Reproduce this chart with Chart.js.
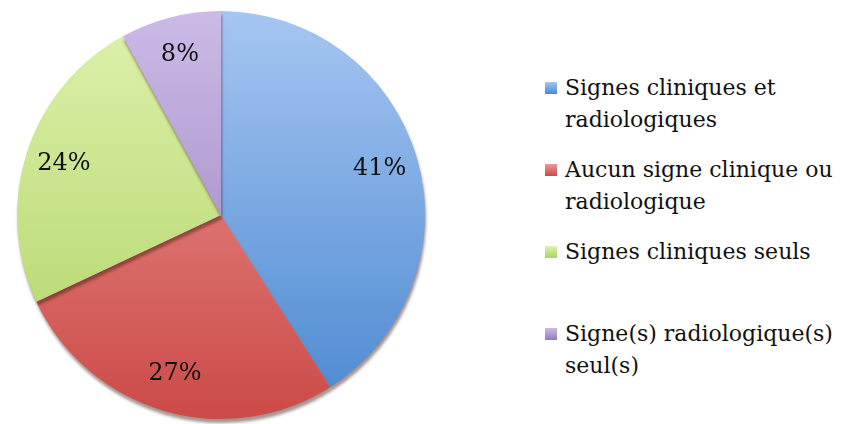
<!DOCTYPE html>
<html>
<head>
<meta charset="utf-8">
<script src="https://cdn.jsdelivr.net/npm/chart.js@4/dist/chart.umd.min.js"></script>
<style>
  html, body { margin: 0; padding: 0; background: #fff; }
  #wrap { position: relative; width: 841px; height: 424px; }
  #pie { position: absolute; left: 0; top: 0; }
  #legend { position: absolute; left: 545px; top: 72px; font-family: "DejaVu Serif", serif; font-size: 22px; color: #111; }
  .item { position: relative; padding-left: 20px; height: 82px; line-height: 32px; }
  .box { position: absolute; left: 0; top: 10px; width: 12px; height: 12px; }
</style>
</head>
<body>
<div id="wrap">
  <canvas id="pie" width="444" height="424"></canvas>
  <div id="legend"></div>
</div>
<script>
const labels = [
  "Signes cliniques et\nradiologiques",
  "Aucun signe clinique ou\nradiologique",
  "Signes cliniques seuls",
  "Signe(s) radiologique(s)\nseul(s)"
];
const values = [41, 27, 24, 8];
const topColors = ["#a6c6f2", "#eb9a98", "#ddf2ac", "#cbbbe6"];
const bottomColors = ["#4a88d0", "#cc4a47", "#b0d265", "#9679bd"];

function sliceGradient(ctx, i) {
  const area = ctx.chart.chartArea;
  if (!area) return topColors[i];
  const g = ctx.chart.ctx.createLinearGradient(0, area.top, 0, area.bottom);
  g.addColorStop(0, topColors[i]);
  g.addColorStop(1, bottomColors[i]);
  return g;
}

const pctLabels = {
  id: "pctLabels",
  afterDatasetsDraw(chart) {
    const c = chart.ctx;
    const total = values.reduce((a, b) => a + b, 0);
    chart.getDatasetMeta(0).data.forEach((arc, i) => {
      const mid = (arc.startAngle + arc.endAngle) / 2;
      const r = arc.outerRadius * 0.81;
      const x = arc.x + Math.cos(mid) * r;
      const y = arc.y + Math.sin(mid) * r;
      c.save();
      c.font = "24px 'DejaVu Serif', serif";
      c.fillStyle = "#111";
      c.textAlign = "center";
      c.textBaseline = "middle";
      c.fillText(Math.round(values[i] / total * 100) + "%", x, y);
      c.restore();
    });
  }
};

const shadow = {
  id: "shadow",
  beforeDatasetsDraw(chart) {
    const c = chart.ctx;
    c.save();
    c.shadowColor = "rgba(60,20,10,0.45)";
    c.shadowOffsetY = 4;
    c.shadowOffsetX = 1;
    c.shadowBlur = 3;
  },
  afterDatasetsDraw(chart) {
    chart.ctx.restore();
  }
};

new Chart(document.getElementById("pie").getContext("2d"), {
  type: "pie",
  data: {
    labels: labels,
    datasets: [{
      data: values,
      backgroundColor: (ctx) => sliceGradient(ctx, ctx.dataIndex),
      borderWidth: 0
    }]
  },
  options: {
    responsive: false,
    animation: false,
    layout: { padding: { left: 17, right: 19, top: 11, bottom: 5 } },
    plugins: {
      legend: { display: false },
      tooltip: { enabled: false }
    }
  },
  plugins: [shadow, pctLabels]
});

// legend built from the same arrays
const legend = document.getElementById("legend");
labels.forEach((text, i) => {
  const item = document.createElement("div");
  item.className = "item";
  const box = document.createElement("span");
  box.className = "box";
  box.style.background = "linear-gradient(" + topColors[i] + "," + bottomColors[i] + ")";
  item.appendChild(box);
  text.split("\n").forEach((line) => {
    const d = document.createElement("div");
    d.textContent = line;
    item.appendChild(d);
  });
  legend.appendChild(item);
});
</script>
</body>
</html>
